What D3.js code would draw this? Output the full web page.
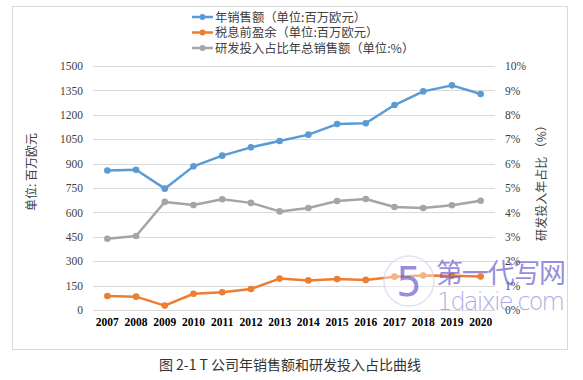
<!DOCTYPE html>
<html>
<head>
<meta charset="utf-8">
<script src="https://cdn.jsdelivr.net/npm/d3@7"></script>
<style>
  body { margin: 0; background: #fff; }
</style>
</head>
<body>
<div id="chart"></div>
<script>
const years = ["2007","2008","2009","2010","2011","2012","2013","2014","2015","2016","2017","2018","2019","2020"];
const sales = [858, 862, 746, 883, 949, 1000, 1039, 1078, 1143, 1148, 1260, 1344, 1381, 1328];
const profit = [86, 82, 27, 100, 109, 129, 193, 182, 190, 185, 205, 212, 210, 206];
const rdShare = [2.92, 3.03, 4.43, 4.30, 4.54, 4.39, 4.04, 4.18, 4.47, 4.55, 4.22, 4.18, 4.29, 4.48];
const leftTicks = [0, 150, 300, 450, 600, 750, 900, 1050, 1200, 1350, 1500];
const rightTicks = [0, 1, 2, 3, 4, 5, 6, 7, 8, 9, 10];
const legendNames = ["年销售额（单位:百万欧元）", "税息前盈余（单位:百万欧元）", "研发投入占比年总销售额（单位:%）"];
const colors = ["#5b9bd5", "#ed7d31", "#a5a5a5"];

const width = 583, height = 380;
const cjk = '"Noto Sans CJK SC", sans-serif';
const serif = '"Liberation Serif", "Times New Roman", serif';

const svg = d3.select("#chart").append("svg")
  .attr("width", width)
  .attr("height", height);

// chart frame
svg.append("rect")
  .attr("x", 12.5).attr("y", 6.5)
  .attr("width", 555).attr("height", 343)
  .attr("fill", "none").attr("stroke", "#d9d9d9");

const x = d3.scaleBand().domain(years).range([93, 495]);
const yL = d3.scaleLinear().domain([0, 1500]).range([310, 66]);
const yR = d3.scaleLinear().domain([0, 10]).range([310, 66]);

// grid lines
svg.append("g")
  .selectAll("line")
  .data(leftTicks)
  .enter()
  .append("line")
  .attr("x1", 93).attr("x2", 495)
  .attr("y1", d => Math.round(yL(d)) + 0.5)
  .attr("y2", d => Math.round(yL(d)) + 0.5)
  .attr("stroke", "#d9d9d9");

// left axis
const leftAxis = svg.append("g")
  .attr("transform", "translate(93,0)")
  .call(d3.axisLeft(yL).tickValues(leftTicks).tickSize(0).tickPadding(10)
    .tickFormat(d3.format("d")))
  .attr("font-family", serif).attr("font-size", 11.5);
leftAxis.select(".domain").remove();
leftAxis.selectAll("text").attr("fill", "#404040");

// right axis
const rightAxis = svg.append("g")
  .attr("transform", "translate(495,0)")
  .call(d3.axisRight(yR).tickValues(rightTicks).tickSize(0).tickPadding(10)
    .tickFormat(d => d + "%"))
  .attr("font-family", serif).attr("font-size", 11.5);
rightAxis.select(".domain").remove();
rightAxis.selectAll("text").attr("fill", "#404040");

// x axis
const bottomAxis = svg.append("g")
  .attr("transform", "translate(0,310)")
  .call(d3.axisBottom(x).tickSize(0).tickPadding(8))
  .attr("font-family", serif).attr("font-size", 11.5).attr("font-weight", "bold");
bottomAxis.select(".domain").remove();
bottomAxis.selectAll("text").attr("fill", "#000");

// axis titles
svg.append("text")
  .attr("transform", "translate(36,172) rotate(-90)")
  .attr("text-anchor", "middle")
  .attr("font-size", 12).attr("fill", "#404040")
  .attr("font-family", cjk)
  .text("单位: 百万欧元");

svg.append("text")
  .attr("transform", "translate(546,180) rotate(-90)")
  .attr("text-anchor", "middle")
  .attr("font-size", 12).attr("fill", "#404040")
  .attr("font-family", cjk)
  .text("研发投入年占比 （%）");

// lines
const series = [
  { values: sales, y: yL },
  { values: profit, y: yL },
  { values: rdShare, y: yR }
];
const cx = d => x(d) + x.bandwidth() / 2;

series.forEach((s, i) => {
  const line = d3.line()
    .x((d, j) => cx(years[j]))
    .y(d => s.y(d));
  svg.append("path")
    .datum(s.values)
    .attr("fill", "none")
    .attr("stroke", colors[i])
    .attr("stroke-width", 2.5)
    .attr("stroke-linejoin", "round")
    .attr("d", line);
  svg.append("g")
    .selectAll("circle")
    .data(s.values)
    .enter()
    .append("circle")
    .attr("cx", (d, j) => cx(years[j]))
    .attr("cy", d => s.y(d))
    .attr("r", 3.3)
    .attr("fill", colors[i]);
});

// legend
const legend = svg.append("g");
legendNames.forEach((name, i) => {
  const ly = 17 + i * 15.5;
  legend.append("line")
    .attr("x1", 192).attr("x2", 213)
    .attr("y1", ly).attr("y2", ly)
    .attr("stroke", colors[i]).attr("stroke-width", 2.5);
  legend.append("circle")
    .attr("cx", 202.5).attr("cy", ly).attr("r", 3)
    .attr("fill", colors[i]);
  legend.append("text")
    .attr("x", 215).attr("y", ly + 4.5)
    .attr("font-size", 12.3).attr("fill", "#404040")
    .attr("font-family", cjk)
    .text(name);
});

// caption
svg.append("text")
  .attr("x", 290).attr("y", 370)
  .attr("text-anchor", "middle")
  .attr("font-size", 14).attr("fill", "#333")
  .attr("font-family", cjk)
  .text("图 2-1 T 公司年销售额和研发投入占比曲线");

// watermark
const wm = svg.append("g").attr("opacity", 0.7);
wm.append("circle")
  .attr("cx", 409).attr("cy", 281).attr("r", 25)
  .attr("fill", "#fff").attr("fill-opacity", 0.6)
  .attr("stroke", "#d8d4f2").attr("stroke-width", 1.5);
wm.append("text")
  .attr("x", 409).attr("y", 296)
  .attr("text-anchor", "middle")
  .attr("font-size", 40).attr("fill", "#6a5fd0")
  .attr("font-family", '"DejaVu Sans", sans-serif')
  .text("5");
wm.append("text")
  .attr("x", 436).attr("y", 283)
  .attr("font-size", 27).attr("fill", "#6a5fd0")
  .attr("textLength", 130)
  .attr("font-family", cjk)
  .text("第一代写网");
wm.append("text")
  .attr("x", 437).attr("y", 310)
  .attr("font-size", 24).attr("fill", "#8f86dd")
  .attr("textLength", 128)
  .attr("font-family", '"DejaVu Sans", sans-serif')
  .attr("font-weight", 300)
  .text("1daixie.com");
</script>
</body>
</html>
